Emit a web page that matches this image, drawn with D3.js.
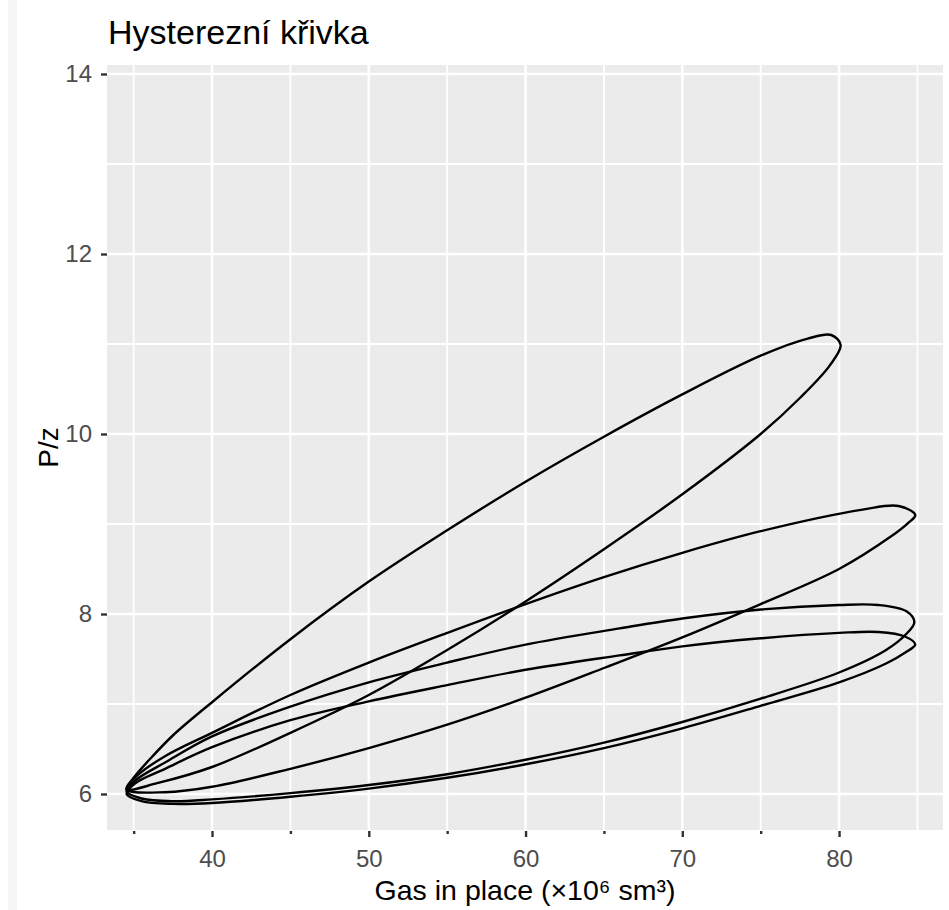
<!DOCTYPE html>
<html>
<head>
<meta charset="utf-8">
<script src="https://cdn.jsdelivr.net/npm/d3@7"></script>
<style>
  html, body { margin: 0; padding: 0; background: #fff; }
  svg { display: block; font-family: "Liberation Sans", Arial, sans-serif; }
</style>
</head>
<body>
<svg id="chart" width="949" height="910"></svg>
<script>
// ---- Data ----
const titleText = "Hysterezní křivka";
const xTitle = "Gas in place (×10⁶ sm³)";
const yTitle = "P/z";

const xMajorTicks = [40, 50, 60, 70, 80];
const xMinorTicks = [35, 45, 55, 65, 75, 85];
const yMajorTicks = [6, 8, 10, 12, 14];
const yMinorTicks = [7, 9, 11, 13];

// Loop 1 (tip at ~80, 11)
const loop1X = [34.55, 36.5, 40, 45, 50, 55, 60, 65, 70, 75, 77.5, 79.4, 80.1, 79.5, 78, 75, 70, 65, 60, 55, 50, 45, 40, 37.5, 36, 35];
const loop1Y = [6.05, 6.12, 6.3, 6.68, 7.1, 7.6, 8.14, 8.72, 9.33, 10.0, 10.4, 10.76, 10.99, 11.1, 11.06, 10.87, 10.44, 9.97, 9.47, 8.93, 8.36, 7.72, 7.02, 6.65, 6.38, 6.18];

// Loop 2 (tip at ~85, 9.1)
const loop2X = [34.55, 37, 40, 45, 50, 55, 60, 65, 70, 75, 80, 83.3, 84.4, 84.86, 83.8, 81.5, 75, 70, 65, 60, 55, 50, 45, 40, 37, 35.2];
const loop2Y = [6.05, 6.02, 6.08, 6.28, 6.51, 6.77, 7.07, 7.4, 7.74, 8.11, 8.5, 8.86, 9.01, 9.1, 9.2, 9.16, 8.92, 8.68, 8.41, 8.11, 7.79, 7.46, 7.1, 6.68, 6.42, 6.2];

// Loop 3 (tip at ~85, 7.9)
const loop3X = [34.55, 35.5, 37.5, 40, 45, 50, 55, 60, 65, 70, 75, 80, 83, 84.3, 84.8, 84.3, 82.5, 80, 75, 70, 66, 60, 55, 50, 45, 40, 37, 35.1];
const loop3Y = [6.03, 5.95, 5.92, 5.94, 6.01, 6.1, 6.22, 6.38, 6.57, 6.8, 7.06, 7.35, 7.6, 7.78, 7.91, 8.03, 8.1, 8.1, 8.05, 7.95, 7.84, 7.66, 7.46, 7.24, 6.97, 6.64, 6.35, 6.15];

// Loop 4 (tip at ~85, 7.65)
const loop4X = [34.55, 35.5, 37.5, 40, 45, 50, 55, 60, 65, 70, 75, 80, 83, 84.3, 84.86, 84.2, 82.5, 80, 75, 70, 66, 60, 55, 50, 45, 40, 37, 35.1];
const loop4Y = [6.0, 5.92, 5.89, 5.9, 5.97, 6.06, 6.18, 6.33, 6.51, 6.73, 6.98, 7.24, 7.45, 7.58, 7.66, 7.75, 7.8, 7.79, 7.73, 7.64, 7.54, 7.38, 7.21, 7.03, 6.82, 6.52, 6.28, 6.12];

const loops = [[loop1X, loop1Y], [loop2X, loop2Y], [loop3X, loop3Y], [loop4X, loop4Y]];

// ---- Layout ----
const panel = { left: 107, right: 943, top: 65, bottom: 830 };
const svg = d3.select("#chart");

const x = d3.scaleLinear().domain([33.3, 86.63]).range([panel.left, panel.right]);
const y = d3.scaleLinear().domain([5.6, 14.1]).range([panel.bottom, panel.top]);

// faint screenshot strip on the left
svg.append("rect").attr("x", 8).attr("y", 0).attr("width", 9).attr("height", 910).attr("fill", "#f7f7f7");

// panel background
svg.append("rect")
  .attr("x", panel.left).attr("y", panel.top)
  .attr("width", panel.right - panel.left).attr("height", panel.bottom - panel.top)
  .attr("fill", "#ebebeb");

const grid = svg.append("g");
// minor grid
grid.selectAll("line.vminor").data(xMinorTicks).join("line")
  .attr("class", "vminor")
  .attr("x1", d => x(d)).attr("x2", d => x(d))
  .attr("y1", panel.top).attr("y2", panel.bottom)
  .attr("stroke", "#fff").attr("stroke-width", 1.8);
grid.selectAll("line.hminor").data(yMinorTicks).join("line")
  .attr("class", "hminor")
  .attr("x1", panel.left).attr("x2", panel.right)
  .attr("y1", d => y(d)).attr("y2", d => y(d))
  .attr("stroke", "#fff").attr("stroke-width", 1.8);
// major grid
grid.selectAll("line.vmajor").data(xMajorTicks).join("line")
  .attr("class", "vmajor")
  .attr("x1", d => x(d)).attr("x2", d => x(d))
  .attr("y1", panel.top).attr("y2", panel.bottom)
  .attr("stroke", "#fff").attr("stroke-width", 2.6);
grid.selectAll("line.hmajor").data(yMajorTicks).join("line")
  .attr("class", "hmajor")
  .attr("x1", panel.left).attr("x2", panel.right)
  .attr("y1", d => y(d)).attr("y2", d => y(d))
  .attr("stroke", "#fff").attr("stroke-width", 2.6);

// loops
const line = d3.line()
  .x(d => x(d[0])).y(d => y(d[1]))
  .curve(d3.curveCatmullRomClosed.alpha(0.5));

svg.append("clipPath").attr("id", "clip")
  .append("rect").attr("x", panel.left).attr("y", panel.top)
  .attr("width", panel.right - panel.left).attr("height", panel.bottom - panel.top);

svg.append("g").attr("clip-path", "url(#clip)")
  .selectAll("path").data(loops).join("path")
  .attr("d", L => line(L[0].map((v, i) => [v, L[1][i]])))
  .attr("fill", "none")
  .attr("stroke", "#000")
  .attr("stroke-width", 2.4)
  .attr("stroke-linejoin", "round");

// axes
const yAxis = d3.axisLeft(y).tickValues(yMajorTicks).tickSize(6).tickPadding(9).tickFormat(d3.format("d"));
const gy = svg.append("g").attr("transform", `translate(${panel.left},0)`).call(yAxis);

const xAxis = d3.axisBottom(x).tickValues(xMajorTicks).tickSize(6).tickPadding(13).tickFormat(d3.format("d"));
const gx = svg.append("g").attr("transform", `translate(0,${panel.bottom + 1})`).call(xAxis);

const xAxisMinor = d3.axisBottom(x).tickValues(xMinorTicks.filter(d => d < 85)).tickSize(3).tickFormat("");
const gxm = svg.append("g").attr("transform", `translate(0,${panel.bottom + 1})`).call(xAxisMinor);

[gx, gy, gxm].forEach(g => {
  g.select(".domain").remove();
  g.selectAll(".tick line").attr("stroke", "#333").attr("stroke-width", 2.4);
  g.selectAll(".tick text")
    .attr("fill", "#4d4d4d")
    .style("font-size", "24px")
    .style("font-family", '"Liberation Sans", Arial, sans-serif');
});

// title
svg.append("text")
  .attr("x", 108).attr("y", 44)
  .attr("fill", "#000")
  .style("font-size", "34px")
  .text(titleText);

// x title
svg.append("text")
  .attr("x", (panel.left + panel.right) / 2).attr("y", 900)
  .attr("text-anchor", "middle")
  .attr("fill", "#000")
  .style("font-size", "28.5px")
  .text(xTitle);

// y title
svg.append("text")
  .attr("transform", `translate(58,${(panel.top + panel.bottom) / 2}) rotate(-90)`)
  .attr("text-anchor", "middle")
  .attr("fill", "#000")
  .style("font-size", "28px")
  .text(yTitle);
</script>
</body>
</html>
